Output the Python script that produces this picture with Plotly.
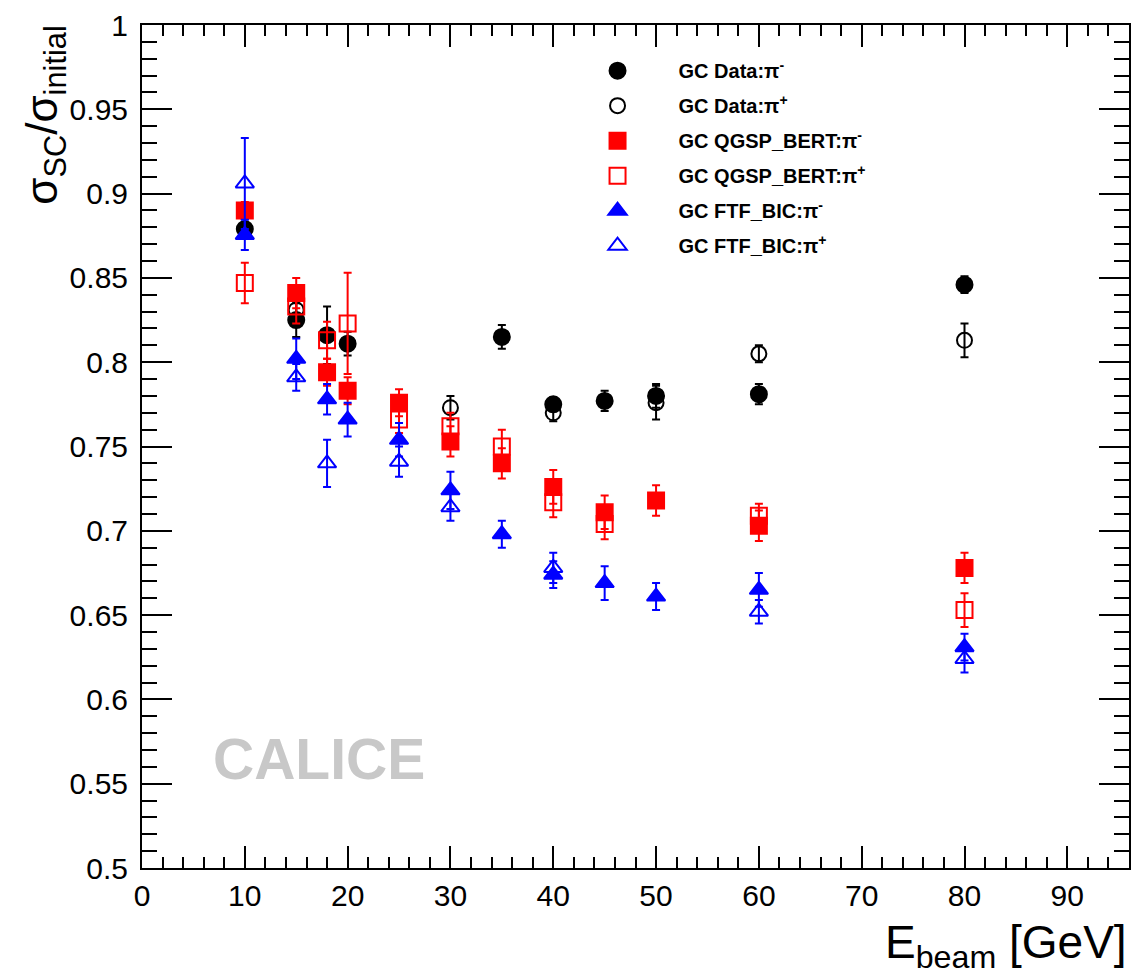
import plotly.graph_objects as go

# ---------------- data ----------------
data_pim_x = [10, 15, 18, 20, 35, 40, 45, 50, 60, 80]
data_pim_y = [0.879, 0.825, 0.816, 0.811, 0.815, 0.775, 0.777, 0.780, 0.781, 0.846]
data_pim_e = [0.006, 0.010, 0.017, 0.007, 0.007, 0.004, 0.006, 0.007, 0.006, 0.005]

data_pip_x = [15, 30, 40, 50, 60, 80]
data_pip_y = [0.831, 0.773, 0.770, 0.776, 0.805, 0.813]
data_pip_e = [0.006, 0.007, 0.005, 0.010, 0.005, 0.010]

qgsp_pim_x = [10, 15, 18, 20, 25, 30, 35, 40, 45, 50, 60, 80]
qgsp_pim_y = [0.890, 0.841, 0.794, 0.783, 0.776, 0.753, 0.740, 0.726, 0.711, 0.718, 0.703, 0.678]
qgsp_pim_e = [0.005, 0.009, 0.008, 0.008, 0.008, 0.009, 0.009, 0.010, 0.010, 0.009, 0.009, 0.009]

qgsp_pip_x = [10, 15, 18, 20, 25, 30, 35, 40, 45, 60, 80]
qgsp_pip_y = [0.847, 0.833, 0.813, 0.823, 0.766, 0.762, 0.750, 0.717, 0.704, 0.709, 0.653]
qgsp_pip_e = [0.012, 0.010, 0.011, 0.030, 0.008, 0.008, 0.010, 0.009, 0.009, 0.007, 0.010]

ftf_pim_x = [10, 15, 18, 20, 25, 30, 35, 40, 45, 50, 60, 80]
ftf_pim_y = [0.8755, 0.802, 0.778, 0.766, 0.754, 0.724, 0.698, 0.674, 0.669, 0.661, 0.665, 0.631]
ftf_pim_e = [0.009, 0.012, 0.009, 0.010, 0.010, 0.011, 0.008, 0.008, 0.010, 0.008, 0.010, 0.008]

ftf_pip_x = [10, 15, 18, 25, 30, 40, 60, 80]
ftf_pip_y = [0.906, 0.791, 0.740, 0.741, 0.714, 0.678, 0.652, 0.624]
ftf_pip_e = [0.027, 0.008, 0.014, 0.009, 0.008, 0.009, 0.007, 0.008]

series_names = [
    "GC Data:π<sup>-</sup>",
    "GC Data:π<sup>+</sup>",
    "GC QGSP_BERT:π<sup>-</sup>",
    "GC QGSP_BERT:π<sup>+</sup>",
    "GC FTF_BIC:π<sup>-</sup>",
    "GC FTF_BIC:π<sup>+</sup>",
]

# ---------------- figure ----------------
FONT = "Liberation Sans, Arial, Helvetica, sans-serif"
fig = go.Figure()

styles = [
    (data_pim_x, data_pim_y, data_pim_e, "black", "circle", 16),
    (data_pip_x, data_pip_y, data_pip_e, "black", "circle-open", 15),
    (qgsp_pim_x, qgsp_pim_y, qgsp_pim_e, "#ff0000", "square", 16),
    (qgsp_pip_x, qgsp_pip_y, qgsp_pip_e, "#ff0000", "square-open", 16),
    (ftf_pim_x, ftf_pim_y, ftf_pim_e, "#0000ff", "triangle-up", 16),
    (ftf_pip_x, ftf_pip_y, ftf_pip_e, "#0000ff", "triangle-up-open", 16),
]

for i, ((xs, ys, es, col, sym, sz), name) in enumerate(zip(styles, series_names)):
    fig.add_trace(go.Scatter(
        x=xs, y=ys, mode="markers", name="<b>" + name + "</b>",
        legendgroup="g%d" % i,
        marker=dict(symbol=sym, color=col, size=sz,
                    line=dict(color=col, width=2)),
        error_y=dict(type="data", array=es, visible=True,
                     color=col, thickness=2, width=4),
    ))

fig.update_layout(
    width=1147, height=978,
    margin=dict(l=134, r=26, t=17, b=118, autoexpand=False),
    paper_bgcolor="white", plot_bgcolor="white",
    font=dict(family=FONT, color="black"),
    showlegend=True,
    legend=dict(
        x=0.420, y=0.969, xanchor="left", yanchor="top",
        bgcolor="rgba(0,0,0,0)", borderwidth=0,
        font=dict(family=FONT, size=20, color="black"),
        tracegroupgap=6, itemwidth=112,
    ),
)

axis_common = dict(
    showline=True, linecolor="black", linewidth=2, mirror="allticks",
    showgrid=False, zeroline=False, ticks="inside",
    tickcolor="black", tickwidth=2, automargin=False,
    tickfont=dict(family=FONT, size=30, color="black"),
)

fig.update_xaxes(
    range=[0, 96], dtick=10, tick0=0, ticklen=22,
    minor=dict(ticks="inside", dtick=2, ticklen=11, tickcolor="black", tickwidth=2),
    **axis_common,
)
fig.update_yaxes(
    range=[0.5, 1.0], dtick=0.05, tick0=0.5, ticklen=30,
    ticklabelstandoff=6,
    minor=dict(ticks="inside", dtick=0.01, ticklen=15, tickcolor="black", tickwidth=2),
    **axis_common,
)

fig.add_annotation(
    text="σ<sub>SC</sub>/σ<sub>initial</sub>", textangle=-90,
    xref="paper", yref="paper", x=-0.098, y=1.003, xanchor="center", yanchor="top",
    showarrow=False, font=dict(family=FONT, size=44, color="black"),
)
fig.add_annotation(
    text="E<sub>beam</sub> [GeV]",
    xref="paper", yref="paper", x=1.0, y=-0.055, xanchor="right", yanchor="top",
    showarrow=False, font=dict(family=FONT, size=46, color="black"),
)
fig.add_annotation(
    text="<b>CALICE</b>",
    xref="paper", yref="paper", x=0.179, y=0.1295, xanchor="center", yanchor="middle",
    showarrow=False, font=dict(family=FONT, size=57, color="#c8c8c8"),
)

fig.write_html("out.html")
